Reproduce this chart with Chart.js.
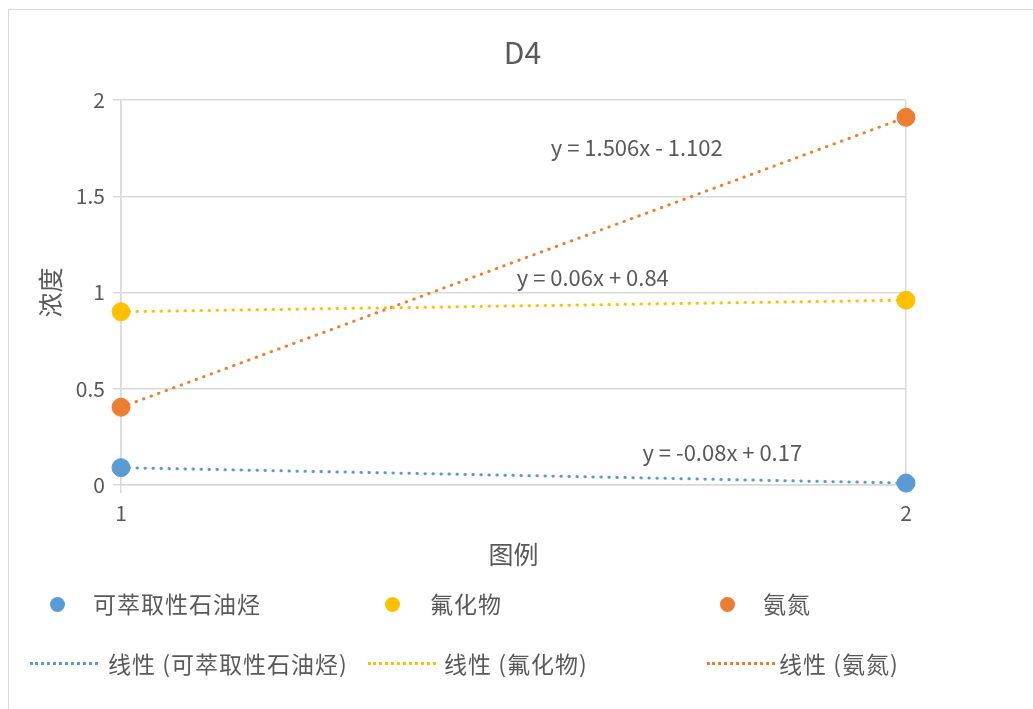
<!DOCTYPE html>
<html>
<head>
<meta charset="utf-8">
<script src="https://cdn.jsdelivr.net/npm/chart.js@4/dist/chart.umd.min.js"></script>
<style>
  html, body { margin: 0; padding: 0; background: #fff; overflow: hidden; }
  #wrap { position: relative; width: 1033px; height: 709px; }
  #frame { position: absolute; left: 8px; top: 9px; width: 1100px; height: 800px; border: 1px solid #d9d9d9; }
  #c { position: absolute; left: 0; top: 0; }
  .lg { position: absolute; font-family: "Noto Sans CJK SC", sans-serif; font-size: 23px; letter-spacing: 1px; color: #595959; white-space: nowrap; line-height: 26px; }
  .dot { position: absolute; width: 15px; height: 15px; border-radius: 50%; }
  .dash { position: absolute; height: 0; border-top: 3px dotted; }
</style>
</head>
<body>
<div id="wrap">
  <div id="frame"></div>
  <canvas id="c" width="1033" height="709"></canvas>
  <div id="legend"></div>
</div>
<script>
// values
const xValues = [1, 2];
const tphValues = [0.09, 0.01];      // 可萃取性石油烃
const fluorideValues = [0.90, 0.96]; // 氟化物
const ammoniaValues = [0.404, 1.91]; // 氨氮
const seriesNames = ['可萃取性石油烃', '氟化物', '氨氮'];
const equations = ['y = -0.08x + 0.17', 'y = 0.06x + 0.84', 'y = 1.506x - 1.102'];
const yTicks = [0, 0.5, 1, 1.5, 2];

const colors = ['#5B9BD5', '#FFC000', '#ED7D31'];
const textColor = '#595959';
const gridColor = '#d9d9d9';
const font = '"Noto Sans CJK SC", sans-serif';

const allValues = [tphValues, fluorideValues, ammoniaValues];
// label anchors in data coordinates
const eqAnchors = [[1.766, 0.166], [1.601, 1.075], [1.657, 1.75]];

const pts = vals => xValues.map((x, i) => ({ x, y: vals[i] }));

const datasets = [];
allValues.forEach((vals, i) => {
  datasets.push({
    label: '线性 (' + seriesNames[i] + ')',
    data: pts(vals),
    showLine: true,
    borderColor: colors[i],
    borderWidth: 3,
    borderDash: [0.5, 7.5],
    borderCapStyle: 'round',
    pointRadius: 0,
    clip: false,
    order: 2
  });
});
allValues.forEach((vals, i) => {
  datasets.push({
    label: seriesNames[i],
    data: pts(vals),
    showLine: false,
    backgroundColor: colors[i],
    borderColor: colors[i],
    pointRadius: 9,
    clip: false,
    order: 1
  });
});

// title centred on the whole canvas, equations near their trendlines
const texts = {
  id: 'texts',
  afterDatasetsDraw(chart) {
    const { ctx, scales: { x, y } } = chart;
    ctx.save();
    ctx.fillStyle = textColor;
    ctx.textAlign = 'center';
    ctx.textBaseline = 'middle';
    ctx.font = '30px ' + font;
    ctx.fillText('D4', chart.width / 2 + 6, 53);
    ctx.font = '22px ' + font;
    equations.forEach((t, i) => {
      ctx.fillText(t, x.getPixelForValue(eqAnchors[i][0]), y.getPixelForValue(eqAnchors[i][1]));
    });
    ctx.restore();
  }
};

new Chart(document.getElementById('c'), {
  type: 'scatter',
  data: { datasets },
  plugins: [texts],
  options: {
    responsive: false,
    animation: false,
    devicePixelRatio: 1,
    layout: { padding: { left: 0, right: 127, top: 100, bottom: 139 } },
    plugins: {
      legend: { display: false },
      tooltip: { enabled: false },
      title: { display: false }
    },
    scales: {
      x: {
        type: 'linear',
        min: 1,
        max: 2,
        afterFit(s) { s.height = 85; },
        afterBuildTicks(s) { s.ticks = xValues.map(v => ({ value: v })); },
        ticks: { color: textColor, font: { family: font, size: 21 }, padding: 7, callback: v => String(v) },
        grid: { color: gridColor, lineWidth: 1.5, tickLength: 8 },
        border: { color: gridColor, width: 1.5 },
        title: { display: true, text: '图例', color: textColor, font: { family: font, size: 25 }, padding: { top: 0, bottom: 1 } }
      },
      y: {
        min: 0,
        max: 2,
        afterFit(s) { s.width = 121; },
        afterBuildTicks(s) { s.ticks = yTicks.map(v => ({ value: v })); },
        ticks: { color: textColor, font: { family: font, size: 21 }, padding: 8, callback: v => String(v) },
        grid: { color: gridColor, lineWidth: 1.5, tickLength: 8 },
        border: { color: gridColor, width: 1.5 },
        title: { display: true, text: '浓度', color: textColor, font: { family: font, size: 25 }, padding: { top: 35, bottom: 0 } }
      }
    }
  }
});

// legend laid out like the Excel one: markers row, trendlines row
const legend = document.getElementById('legend');
const dotX = [50, 385, 720];
const dotText = [93, 430, 763];
const lineX = [30, 368, 707];
const lineText = [108, 444, 779];
seriesNames.forEach((name, i) => {
  legend.insertAdjacentHTML('beforeend',
    `<div class="dot" style="left:${dotX[i]}px;top:597px;background:${colors[i]}"></div>` +
    `<div class="lg" style="left:${dotText[i]}px;top:590px">${name}</div>` +
    `<div class="dash" style="left:${lineX[i]}px;top:662px;width:68px;border-color:${colors[i]}"></div>` +
    `<div class="lg" style="left:${lineText[i]}px;top:650px">线性 (${name})</div>`);
});
</script>
</body>
</html>
